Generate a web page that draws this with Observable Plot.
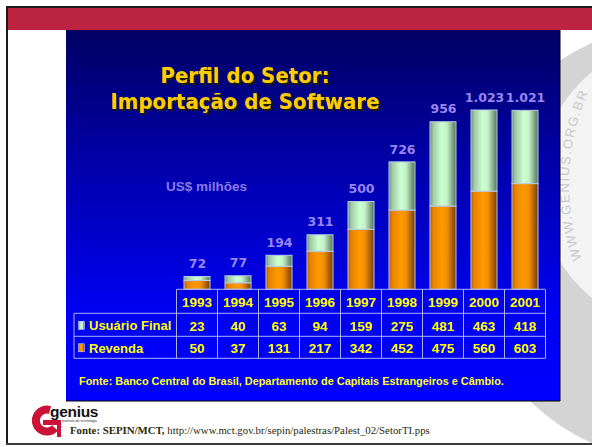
<!DOCTYPE html>
<html><head><meta charset="utf-8">
<script src="https://cdn.jsdelivr.net/npm/d3@7"></script>
<script src="https://cdn.jsdelivr.net/npm/@observablehq/plot@0.6"></script>
<style>
body{margin:0;background:#fff;}
#slide{position:relative;width:592px;height:447px;overflow:hidden;}
#bg,#fg{position:absolute;left:0;top:0;}
#chart{position:absolute;left:0;top:0;}
.ttl{font-family:"DejaVu Sans",Verdana,sans-serif;font-weight:bold;font-size:22px;font-stretch:condensed;}
</style></head>
<body>
<div id="slide">
<svg id="bg" width="592" height="447"></svg>
<div id="chart"></div>
<svg id="fg" width="592" height="447"></svg>
</div>
<script>
// ---- data ----
const years = ["1993","1994","1995","1996","1997","1998","1999","2000","2001"];
const usuarioFinal = [23,40,63,94,159,275,481,463,418];
const revenda = [50,37,131,217,342,452,475,560,603];
const totals = [72,77,194,311,500,726,956,1023,1021];
const seriesNames = ["Usuário Final","Revenda"];
const titleLines = ["Perfil do Setor:","Importação de Software"];
const unitLabel = "US$ milhões";
const panelSource = "Fonte: Banco Central do Brasil, Departamento de Capitais Estrangeiros e Câmbio.";
const footSourceBold = "Fonte: SEPIN/MCT,";
const footSourceUrl = " http://www.mct.gov.br/sepin/palestras/Palest_02/SetorTI.pps";
const watermark = "WWW.GENIUS.ORG.BR";
const logoName = "genius";
const logoSub = "instituto de tecnologia";

const fmt = d3.formatLocale({decimal:",", thousands:".", grouping:[3], currency:["R$",""]}).format(",d");

// ---- background slide ----
const bg = d3.select("#bg");
const defs = bg.append("defs");
function hgrad(id, stops){
  const g = defs.append("linearGradient").attr("id", id).attr("x1","0").attr("x2","1").attr("y1","0").attr("y2","0");
  stops.forEach(([o,c]) => g.append("stop").attr("offset", o).attr("stop-color", c));
}
hgrad("gGreen", [[0,"#6c8c72"],[0.12,"#a0c8a6"],[0.45,"#ccffd2"],[0.65,"#c4f2c8"],[1,"#557359"]]);
hgrad("gOrange", [[0,"#b05c00"],[0.12,"#e68200"],[0.45,"#ff9a00"],[0.65,"#f49000"],[1,"#763c00"]]);
const pg = defs.append("linearGradient").attr("id","gPanel").attr("x1","0").attr("x2","0").attr("y1","0").attr("y2","1");
[[0,"#000063"],[0.35,"#0000a8"],[0.75,"#0000f0"],[1,"#0000ff"]].forEach(([o,c]) => pg.append("stop").attr("offset",o).attr("stop-color",c));
const sh = defs.append("filter").attr("id","tsh").attr("x","-10%").attr("y","-20%").attr("width","120%").attr("height","150%");
sh.append("feDropShadow").attr("dx",2).attr("dy",2).attr("stdDeviation",0).attr("flood-color","#1e1e10").attr("flood-opacity",1);

bg.append("rect").attr("width",592).attr("height",447).attr("fill","#fff");
// watermark ring
bg.append("circle").attr("cx",683).attr("cy",243).attr("r",220).attr("fill","#d4d4d4");
bg.append("circle").attr("cx",683).attr("cy",185).attr("r",145).attr("fill","#f3f3f3");
const wcx = 800, wcy = 184, wr = 231;
const a0 = 161*Math.PI/180, a1 = 212*Math.PI/180;
defs.append("path").attr("id","wmArc")
  .attr("d", `M${wcx+wr*Math.cos(a0)},${wcy+wr*Math.sin(a0)} A${wr},${wr} 0 0 1 ${wcx+wr*Math.cos(a1)},${wcy+wr*Math.sin(a1)}`);
bg.append("text").attr("font-family","Liberation Sans, Arial, sans-serif").attr("font-size",13)
  .attr("fill","#c9c9c9").attr("letter-spacing",1.6)
  .append("textPath").attr("href","#wmArc").attr("startOffset",0).text(watermark);
// frame + red band
bg.append("rect").attr("x",7).attr("y",7).attr("width",590).attr("height",23).attr("fill","#bd2442");
bg.append("path").attr("d","M7,445 V7 H600").attr("fill","none").attr("stroke","#1a1a1a").attr("stroke-width",2);
bg.append("line").attr("x1",6).attr("x2",600).attr("y1",444).attr("y2",444).attr("stroke","#3a3a3a").attr("stroke-width",2);
// panel
bg.append("rect").attr("x",66).attr("y",30).attr("width",494).attr("height",371).attr("fill","url(#gPanel)");
bg.append("path").attr("d","M560,30 V401 H66").attr("fill","none").attr("stroke","#000").attr("stroke-width",1);

// ---- chart ----
const rows = years.flatMap((y,i) => [
  {year:y, series:seriesNames[1], value:revenda[i], fill:"url(#gOrange)"},
  {year:y, series:seriesNames[0], value:usuarioFinal[i], fill:"url(#gGreen)"}
]);

const chart = Plot.plot({
  width:592, height:447, margin:0,
  style:{background:"transparent", overflow:"visible"},
  x:{domain:years, range:[172.7,549.3], paddingInner:0.37, paddingOuter:0.185, axis:null},
  y:{domain:[0,1023], range:[289.3,110], axis:null},
  color:{type:"identity"},
  marks:[
    Plot.barY(rows, {x:"year", y:"value", fill:"fill", stroke:"#b8cbe8", strokeWidth:1}),
    Plot.text(years, {x:d=>d, y:(d,i)=>totals[i], text:(d,i)=>fmt(totals[i]), dy:-13,
      fill:"#9a84f2", fontSize:12.5, fontWeight:"bold", fontFamily:"DejaVu Sans, Verdana, sans-serif"})
  ]
});
document.getElementById("chart").appendChild(chart);

// ---- foreground texts and table ----
const fg = d3.select("#fg");
titleLines.forEach((t,i) => {
  fg.append("text").attr("class","ttl").attr("x",245).attr("y",83 + i*26).attr("text-anchor","middle")
    .attr("fill","#ffcc00").attr("filter","url(#tsh)").text(t);
});
fg.append("text").attr("x",166).attr("y",191).attr("font-family","Liberation Sans, Arial, sans-serif")
  .attr("font-weight","bold").attr("font-size",13.5).attr("fill","#8a78e6").text(unitLabel);

// table using plot x scale
const xs = chart.scale("x"), ys = chart.scale("y");
const step = xs.apply(years[1]) - xs.apply(years[0]);
const colLeft = y => xs.apply(y) + xs.bandwidth/2 - step/2;
const top0 = ys.apply(0);
const rowH = [24, 23, 22];
const rowY = [top0, top0+rowH[0], top0+rowH[0]+rowH[1], top0+rowH[0]+rowH[1]+rowH[2]];
const tLeft = colLeft(years[0]), tRight = colLeft(years[years.length-1]) + step, labLeft = 74;
const lineC = "#a9b2ff";
const tg = fg.append("g").attr("stroke", lineC).attr("stroke-width",1).attr("fill","none");
tg.append("line").attr("x1",tLeft).attr("x2",tRight).attr("y1",rowY[0]).attr("y2",rowY[0]);
[1,2,3].forEach(k => tg.append("line").attr("x1",labLeft).attr("x2",tRight).attr("y1",rowY[k]).attr("y2",rowY[k]));
tg.append("line").attr("x1",labLeft).attr("x2",labLeft).attr("y1",rowY[1]).attr("y2",rowY[3]);
years.forEach(y => tg.append("line").attr("x1",colLeft(y)).attr("x2",colLeft(y)).attr("y1",rowY[0]).attr("y2",rowY[3]));
tg.append("line").attr("x1",tRight).attr("x2",tRight).attr("y1",rowY[0]).attr("y2",rowY[3]);

const cellText = (x, yc, t, anchor="middle") => fg.append("text").attr("x",x).attr("y",yc)
  .attr("dy","0.36em").attr("text-anchor",anchor)
  .attr("font-family","Liberation Sans, Arial, sans-serif").attr("font-weight","bold").attr("font-size",13.5)
  .attr("fill","#ffff00").text(t);
const rc = k => (rowY[k]+rowY[k+1])/2;
years.forEach((y,i) => {
  const cx = xs.apply(y) + xs.bandwidth/2;
  cellText(cx, rc(0)+1, y);
  cellText(cx, rc(1)+1, usuarioFinal[i]);
  cellText(cx, rc(2)+1, revenda[i]);
});
[["url(#gGreen)", seriesNames[0]], ["url(#gOrange)", seriesNames[1]]].forEach(([f,name],k) => {
  fg.append("rect").attr("x",78.5).attr("y",rc(k+1)-3.5).attr("width",6).attr("height",8).attr("fill",f).attr("stroke","#d0d8ff").attr("stroke-width",0.6);
  fg.append("text").attr("x",89).attr("y",rc(k+1)+1).attr("dy","0.36em")
    .attr("font-family","Liberation Sans, Arial, sans-serif").attr("font-weight","bold").attr("font-size",13)
    .attr("fill","#ffff00").text(name);
});

fg.append("text").attr("x",79).attr("y",385).attr("font-family","Liberation Sans, Arial, sans-serif")
  .attr("font-weight","bold").attr("font-size",10.9).attr("fill","#ffff22").text(panelSource);

// logo
const lg = fg.append("g");
lg.append("path").attr("d","M50,410 A11,11 0 1 0 55,428").attr("fill","none").attr("stroke","#cc1237").attr("stroke-width",8);
lg.append("rect").attr("x",43).attr("y",420).attr("width",17).attr("height",5).attr("fill","#cc1237");
lg.append("rect").attr("x",57).attr("y",420).attr("width",4).attr("height",17).attr("fill","#cc1237");
fg.append("text").attr("x",50).attr("y",417).attr("font-family","Liberation Sans, Arial, sans-serif")
  .attr("font-weight","bold").attr("font-size",15.5).attr("letter-spacing",-0.3).attr("fill","#111").text(logoName);
fg.append("text").attr("x",62).attr("y",422).attr("font-family","Liberation Sans, Arial, sans-serif")
  .attr("font-size",3.6).attr("fill","#333").text(logoSub);
const ft = fg.append("text").attr("x",70).attr("y",434).attr("font-family","Liberation Serif, Times New Roman, serif")
  .attr("font-size",10.8).attr("fill","#2a2a08");
ft.append("tspan").attr("font-weight","bold").text(footSourceBold);
ft.append("tspan").text(footSourceUrl);
</script>
</body></html>
